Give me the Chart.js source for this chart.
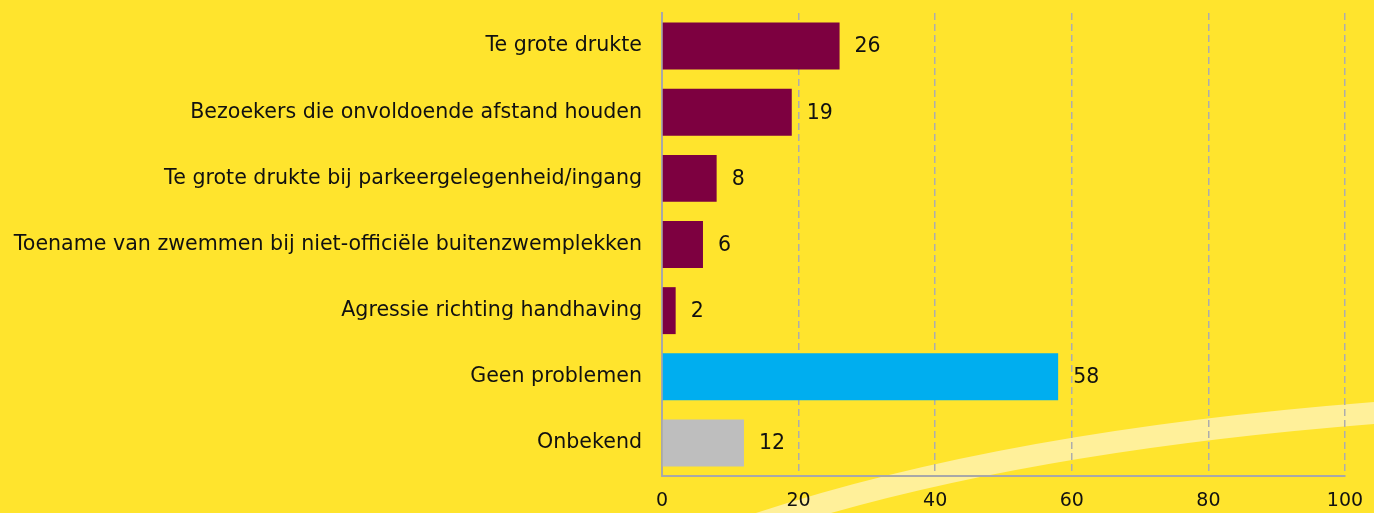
<!DOCTYPE html>
<html>
<head>
<meta charset="utf-8">
<script src="https://cdn.jsdelivr.net/npm/chart.js@4"></script>
<style>
  html, body { margin: 0; padding: 0; background: #FFE42D; }
  #wrap { width: 1374px; height: 513px; position: relative; }
</style>
</head>
<body>
<div id="wrap"><canvas id="chart"></canvas></div>
<script>
// --- Data ---
const categories = [
  'Te grote drukte',
  'Bezoekers die onvoldoende afstand houden',
  'Te grote drukte bij parkeergelegenheid/ingang',
  'Toename van zwemmen bij niet-officiële buitenzwemplekken',
  'Agressie richting handhaving',
  'Geen problemen',
  'Onbekend'
];
const values = [26, 19, 8, 6, 2, 58, 12];
const barColors = ['#7D0040', '#7D0040', '#7D0040', '#7D0040', '#7D0040', '#00AEEF', '#BEBEBE'];
const xTicks = [0, 20, 40, 60, 80, 100];

const FONT = 'DejaVu Sans, sans-serif';
const TEXT = '#111111';

// light decorative swoosh in the background
const swoosh = {
  id: 'swoosh',
  beforeDraw(chart) {
    const ctx = chart.ctx;
    ctx.save();
    ctx.strokeStyle = '#FFF09A';
    ctx.lineWidth = 22;
    ctx.beginPath();
    ctx.moveTo(740, 530);
    ctx.quadraticCurveTo(1000, 440, 1400, 411);
    ctx.stroke();
    ctx.restore();
  }
};

// value next to each bar
const valueLabels = {
  id: 'valueLabels',
  afterDatasetsDraw(chart) {
    const ctx = chart.ctx;
    const meta = chart.getDatasetMeta(0);
    ctx.save();
    ctx.font = '20.5px ' + FONT;
    ctx.fillStyle = TEXT;
    ctx.textAlign = 'left';
    ctx.textBaseline = 'middle';
    meta.data.forEach((bar, i) => {
      ctx.fillText(String(values[i]), bar.x + 15, bar.y + 1);
    });
    ctx.restore();
  }
};

new Chart(document.getElementById('chart'), {
  type: 'bar',
  data: {
    labels: categories,
    datasets: [{
      data: values,
      backgroundColor: barColors,
      barPercentage: 0.71,
      categoryPercentage: 1
    }]
  },
  options: {
    indexAxis: 'y',
    responsive: true,
    maintainAspectRatio: false,
    animation: false,
    layout: { padding: { top: 13, right: 29, left: 0, bottom: 0 } },
    plugins: { legend: { display: false }, tooltip: { enabled: false } },
    scales: {
      x: {
        min: 0,
        max: 100,
        afterBuildTicks(scale) { scale.ticks = xTicks.map(v => ({ value: v })); },
        afterFit(scale) {
          scale.height = 37;
          scale.paddingLeft = 0;
          scale.paddingRight = 0;
        },
        ticks: { color: TEXT, font: { family: FONT, size: 19 }, padding: 14, maxRotation: 0, minRotation: 0 },
        grid: {
          drawTicks: false,
          color: (c) => c.tick && c.tick.value === 0 ? 'rgba(0,0,0,0)' : '#ADADAD',
          lineWidth: 1.5
        },
        border: { color: '#A8A8A8', width: 2, dash: [7, 4] }
      },
      y: {
        afterFit(scale) {
          scale.width = 662;
          scale.paddingTop = 0;
          scale.paddingBottom = 0;
        },
        ticks: { color: TEXT, font: { family: FONT, size: 20.6 }, padding: 20 },
        grid: { display: false, drawTicks: false },
        border: { color: '#A8A8A8', width: 2 }
      }
    }
  },
  plugins: [swoosh, valueLabels]
});
</script>
</body>
</html>
